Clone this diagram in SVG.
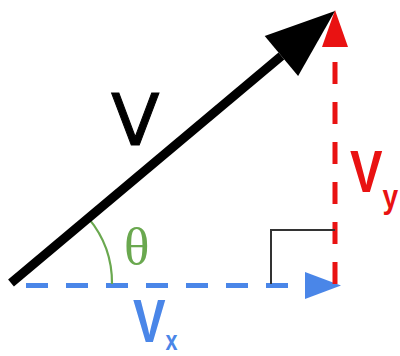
<svg xmlns="http://www.w3.org/2000/svg" width="400" height="356" viewBox="0 0 400 356">
<style>
.lbl{font-family:"Liberation Sans",Arial,sans-serif;font-weight:bold}
</style>
<rect width="400" height="356" fill="#fff"/>
<g id="connectors">
  <path id="vx" d="M26 285.5 H305" stroke="#4a86e8" stroke-width="5" stroke-dasharray="22 18" fill="none"/>
  <polygon points="305,272 341,285.5 305,299" fill="#4a86e8"/>
  <path id="vy" d="M335 284 V47" stroke="#e91212" stroke-width="5" stroke-dasharray="22 18" fill="none"/>
  <polygon points="322,47 335,10 348,47" fill="#e91212"/>
  <path id="right-angle" d="M271 284 V230 H335" stroke="#333" stroke-width="2" fill="none"/>
  <path id="theta-arc" d="M88.4 218.1 A101 101 0 0 1 112 284" stroke="#6aa84f" stroke-width="2.2" fill="none"/>
  <path id="v" d="M11 283 L281.4 56" stroke="#000" stroke-width="9" fill="none"/>
  <polygon points="264.7,36.1 335,11 298.1,75.9" fill="#000"/>
</g>
<g id="label-v"><text x="111" y="145" font-family="DejaVu Sans, sans-serif" font-size="71" fill="#000" stroke="#000" stroke-width="1">V</text></g>
<g id="label-theta"><text x="124" y="264" font-family="Liberation Serif, serif" font-size="53" fill="#6aa84f">θ</text></g>
<g id="label-vy"><text class="lbl" transform="translate(350,192) scale(0.83,1)" font-size="58.7" fill="#e91212">V<tspan font-size="34" dy="15.6">y</tspan></text></g>
<g id="label-vx"><text class="lbl" transform="translate(133,342) scale(0.8,1)" font-size="61" fill="#4a86e8">V<tspan font-size="27" dy="7.5">x</tspan></text></g>
</svg>
